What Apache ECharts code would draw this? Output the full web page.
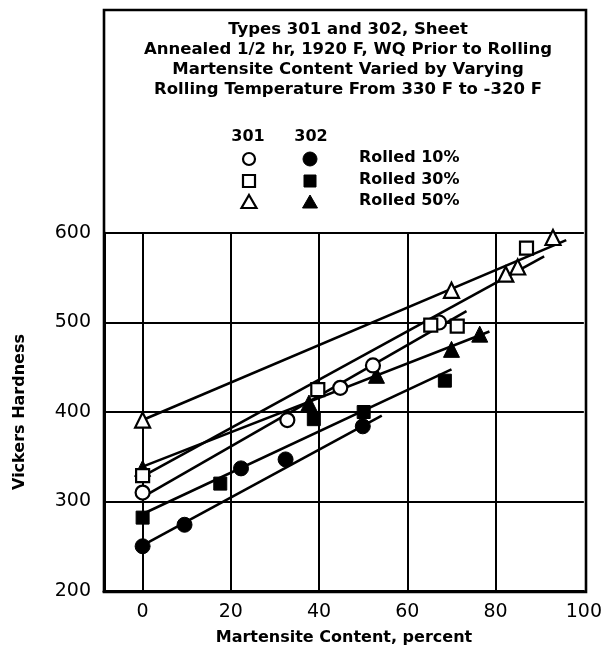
<!DOCTYPE html>
<html><head><meta charset="utf-8">
<script src="https://cdn.jsdelivr.net/npm/echarts@6/dist/echarts.min.js"></script>
<style>html,body{margin:0;padding:0;background:#fff}#c{width:605px;height:651px}</style>
</head><body><div id="c"></div>
<script>
// ---- data ----
const xTicks = [0, 20, 40, 60, 80, 100];
const yTicks = [200, 300, 400, 500, 600];
const titleLines = [
  'Types 301 and 302, Sheet',
  'Annealed 1/2 hr, 1920 F, WQ Prior to Rolling',
  'Martensite Content Varied by Varying',
  'Rolling Temperature From 330 F to -320 F'
];
const groups = ['301', '302'];
const legendRows = ['Rolled 10%', 'Rolled 30%', 'Rolled 50%'];
const xName = 'Martensite Content, percent';
const yName = 'Vickers Hardness';

// Type 301 (open symbols)
const x301_10 = [0, 32.8, 44.8, 52.2, 67.2];
const y301_10 = [310, 391, 427, 452, 500];
const x301_30 = [0, 39.7, 65.3, 71.3, 87];
const y301_30 = [329, 425, 497, 496, 583];
const x301_50 = [0, 70, 82.3, 85, 93];
const y301_50 = [391, 536, 554, 562, 595];
// Type 302 (filled symbols)
const x302_10 = [0, 9.5, 22.3, 32.4, 49.9];
const y302_10 = [250, 274, 337, 347, 384];
const x302_30 = [0, 17.6, 38.8, 50.1, 68.5];
const y302_30 = [282, 320, 392, 400, 435];
const x302_50 = [0, 37.7, 53, 70, 76.4];
const y302_50 = [337, 410, 441, 470, 487];

// fitted lines (end points)
const fit301_10 = [[0, 305], [73.4, 512.7]];
const fit301_30 = [[0, 328], [91, 574]];
const fit301_50 = [[0, 391], [96, 592]];
const fit302_10 = [[0, 251], [54.2, 396]];
const fit302_30 = [[0, 286], [70, 447.7]];
const fit302_50 = [[0, 339], [78.6, 490]];

// ---- chart ----
const zip = (xs, ys) => xs.map((x, i) => [x, ys[i]]);
const FONT = 'DejaVu Sans';
const chart = echarts.init(document.getElementById('c'), null, {renderer: 'canvas'});

function pts(name, xs, ys, symbol, filled, size) {
  return {
    name, type: 'scatter', data: zip(xs, ys), symbol, symbolSize: size, z: 5,
    itemStyle: filled ? {color: '#000', borderColor: '#000', borderWidth: 1, opacity: 1}
                      : {color: '#fff', borderColor: '#000', borderWidth: 2.2, opacity: 1},
    emphasis: {disabled: true}, silent: true
  };
}
function fit(name, d) {
  return {
    name, type: 'line', data: d, symbol: 'none', z: 3, silent: true,
    lineStyle: {color: '#000', width: 2.6, opacity: 1}
  };
}

const gridLeft = 104, gridRight = 19, gridTop = 233, gridBottom = 59;
const frameRight = 605 - gridRight;

const graphics = [];
graphics.push({
  type: 'rect', z: 20, silent: true,
  shape: {x: gridLeft, y: 10, width: frameRight - gridLeft, height: 651 - gridBottom - 10},
  style: {fill: 'none', stroke: '#000', lineWidth: 2.6}
});
graphics.push({
  type: 'text', z: 20, silent: true, x: 348, y: 20,
  style: {text: titleLines.join('\n'), font: 'bold 16.5px "' + FONT + '"', fill: '#000',
          align: 'center', verticalAlign: 'top', lineHeight: 20}
});
const colX = [248, 311];
groups.forEach((g, i) => graphics.push({
  type: 'text', z: 20, silent: true, x: colX[i], y: 137,
  style: {text: g, font: 'bold 16px "' + FONT + '"', fill: '#000', align: 'center', verticalAlign: 'middle'}
}));
const rowY = [159, 181, 202];
legendRows.forEach((t, i) => graphics.push({
  type: 'text', z: 20, silent: true, x: 359, y: rowY[i] - 1,
  style: {text: t, font: 'bold 16px "' + FONT + '"', fill: '#000', align: 'left', verticalAlign: 'middle'}
}));
function legendSym(kind, cx, cy, filled) {
  const style = filled ? {fill: '#000', stroke: '#000', lineWidth: 1} : {fill: '#fff', stroke: '#000', lineWidth: 2.2};
  if (kind === 'circle') return {type: 'circle', z: 20, silent: true, shape: {cx, cy, r: filled ? 7 : 6}, style};
  if (kind === 'rect') return {type: 'rect', z: 20, silent: true, shape: {x: cx - 6, y: cy - 6, width: 12, height: 12}, style};
  return {type: 'polygon', z: 20, silent: true, shape: {points: [[cx, cy - 7], [cx + 7.5, cy + 6], [cx - 7.5, cy + 6]]}, style};
}
['circle', 'rect', 'triangle'].forEach((k, i) => {
  graphics.push(legendSym(k, colX[0] + 1, rowY[i], false));
  graphics.push(legendSym(k, colX[1] - 1, rowY[i], true));
});

const option = {
  animation: false,
  backgroundColor: '#fff',
  grid: {left: gridLeft, right: gridRight, top: gridTop, bottom: gridBottom, containLabel: false},
  xAxis: {
    type: 'value', min: -8.75, max: 100,
    axisLine: {show: true, onZero: false, lineStyle: {color: '#000', width: 3}},
    axisTick: {show: false},
    splitLine: {show: false},
    axisLabel: {customValues: xTicks, fontSize: 19, fontFamily: FONT, color: '#000', margin: 12},
    name: xName, nameLocation: 'middle', nameGap: 39,
    nameTextStyle: {fontSize: 16, fontWeight: 'bold', fontFamily: FONT, color: '#000'}
  },
  yAxis: {
    type: 'value', min: 200, max: 600, interval: 100,
    axisLine: {show: true, onZero: false, lineStyle: {color: '#000', width: 3}},
    axisTick: {show: false},
    splitLine: {show: true, lineStyle: {color: '#000', width: 2}},
    axisLabel: {fontSize: 19, fontFamily: FONT, color: '#000', margin: 13},
    name: yName, nameLocation: 'middle', nameGap: 76,
    nameTextStyle: {fontSize: 16, fontWeight: 'bold', fontFamily: FONT, color: '#000'}
  },
  graphic: graphics,
  series: [
    {
      type: 'line', data: [], silent: true,
      markLine: {
        silent: true, symbol: ['none', 'none'], label: {show: false},
        lineStyle: {color: '#000', width: 2, type: 'solid', opacity: 1},
        data: xTicks.filter(v => v < 100).map(v => ({xAxis: v}))
      }
    },
    fit('fit301_10', fit301_10), fit('fit301_30', fit301_30), fit('fit301_50', fit301_50),
    fit('fit302_10', fit302_10), fit('fit302_30', fit302_30), fit('fit302_50', fit302_50),
    pts('302 Rolled 10%', x302_10, y302_10, 'circle', true, 15),
    pts('302 Rolled 30%', x302_30, y302_30, 'rect', true, 13),
    pts('302 Rolled 50%', x302_50, y302_50, 'triangle', true, 16),
    pts('301 Rolled 10%', x301_10, y301_10, 'circle', false, 14),
    pts('301 Rolled 30%', x301_30, y301_30, 'rect', false, 13),
    pts('301 Rolled 50%', x301_50, y301_50, 'triangle', false, 15)
  ]
};
chart.setOption(option);
</script>
</body></html>
